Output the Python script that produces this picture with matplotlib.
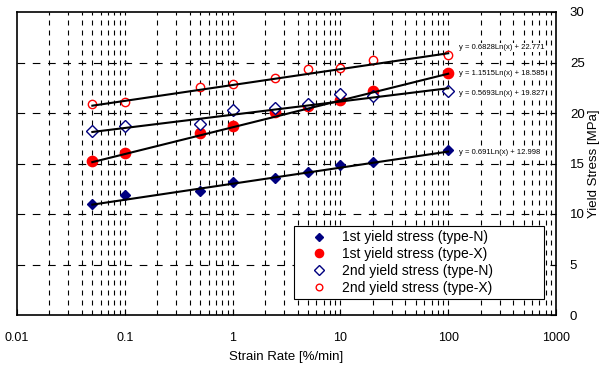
import matplotlib
matplotlib.use("Agg")
import matplotlib.pyplot as plt
import numpy as np
from matplotlib.ticker import FixedLocator, NullFormatter, FuncFormatter

plt.rcParams.update({
    "font.family": ["Liberation Sans", "DejaVu Sans"],
    "font.size": 8.5,
    "lines.scale_dashes": False,
})

strain_rate = [0.05, 0.1, 0.5, 1, 2.5, 5, 10, 20, 100]
first_n = [10.95, 11.9, 12.3, 13.2, 13.6, 14.15, 14.9, 15.15, 16.3]
first_x = [15.2, 16.0, 18.0, 18.7, 20.1, 20.65, 21.3, 22.2, 24.0]
second_n = [18.2, 18.7, 18.95, 20.3, 20.45, 20.85, 21.85, 21.7, 22.2]
second_x = [20.85, 21.05, 22.6, 22.85, 23.5, 24.4, 24.5, 25.2, 25.7]

labels = ["1st yield stress (type-N)", "1st yield stress (type-X)",
          "2nd yield stress (type-N)", "2nd yield stress (type-X)"]

# trendline coefficients as printed: y = a*Ln(x) + b
trend_a = [0.691, 1.1515, 0.5693, 0.6828]
trend_b = [12.998, 18.585, 19.827, 22.771]
trend_text = ["y = 0.691Ln(x) + 12.998", "y = 1.1515Ln(x) + 18.585",
              "y = 0.5693Ln(x) + 19.827", "y = 0.6828Ln(x) + 22.771"]
text_y = [16.1, 23.9, 21.9, 26.5]

fig = plt.figure(figsize=(6.02, 3.70), dpi=100)
ax = fig.add_axes([17/602, 1 - 315/370, 539/602, 303/370])

ax.set_xscale("log")
ax.set_xlim(0.01, 1000)
ax.set_ylim(0, 30)

# grid like the spreadsheet chart
minor_x = [m * 10.0**k for k in range(-2, 3) for m in range(2, 10)]
major_x = [0.1, 1, 10, 100]
for xv in minor_x + major_x:
    ax.axvline(xv, color="black", lw=0.8, ls=(0, (3.6, 3.6)), zorder=0)
for yv in [5, 10, 15, 20, 25]:
    ax.axhline(yv, color="black", lw=0.8, ls=(0, (5.5, 5.5)), zorder=0)

styles = [
    dict(marker="D", color="#000080", mfc="#000080", mec="#000080", ms=5.6),
    dict(marker="o", color="#FF0000", mfc="#FF0000", mec="#FF0000", ms=7.4),
    dict(marker="D", color="#000080", mfc="white", mec="#000080", ms=6.4, mew=1),
    dict(marker="o", color="#FF0000", mfc="white", mec="#FF0000", ms=6.0, mew=1),
]
series = [first_n, first_x, second_n, second_x]

for ys, st, lab in zip(series, styles, labels):
    ax.plot(strain_rate, ys, ls="none", label=lab, zorder=3, **st)

xx = np.geomspace(min(strain_rate), max(strain_rate), 60)
for a, b, t, ty in zip(trend_a, trend_b, trend_text, text_y):
    ax.plot(xx, a * np.log(xx) + b, color="black", lw=1.5, zorder=4)
    ax.text(126, ty, t, fontsize=5.5, ha="left", va="center", zorder=5,
            bbox=dict(facecolor="white", edgecolor="none", pad=0.5))

ax.xaxis.set_major_locator(FixedLocator([0.01, 0.1, 1, 10, 100, 1000]))
ax.xaxis.set_major_formatter(FuncFormatter(lambda v, _: f"{v:g}"))
ax.xaxis.set_minor_formatter(NullFormatter())
ax.tick_params(axis="x", which="minor", length=0)
ax.tick_params(axis="x", which="major", direction="in", length=4, pad=12, labelsize=9)

ax.yaxis.tick_right()
ax.yaxis.set_label_position("right")
ax.set_yticks([0, 5, 10, 15, 20, 25, 30])
ax.tick_params(axis="y", direction="in", length=4, pad=10, labelsize=9.5)

ax.set_xlabel("Strain Rate [%/min]", fontsize=9.5, labelpad=5)
ax.set_ylabel("Yield Stress [MPa]", fontsize=9.5, rotation=90, labelpad=2)

for sp in ax.spines.values():
    sp.set_linewidth(1.2)

x0 = (294 - 17) / 539
y0 = (315 - 299) / 303
leg = ax.legend(loc="lower left", bbox_to_anchor=(x0, y0, (544 - 294) / 539, (299 - 228) / 303),
                mode="expand", borderaxespad=0,
                fancybox=False, framealpha=1, edgecolor="black", fontsize=10,
                handletextpad=0.15, labelspacing=0.2, borderpad=0.3,
                handlelength=3.0, markerscale=0.8)
leg.get_frame().set_linewidth(0.8)
leg.set_zorder(6)

fig.savefig("out.png", dpi=100)
